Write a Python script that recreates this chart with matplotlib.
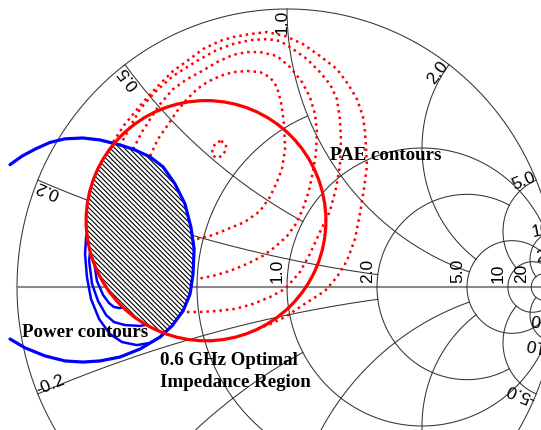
import numpy as np
import matplotlib
matplotlib.use("Agg")
import matplotlib.pyplot as plt
from matplotlib.patches import Ellipse, PathPatch
from matplotlib.path import Path
from matplotlib.transforms import offset_copy

# ---- Smith chart grid -------------------------------------------------------
# constant-resistance circles and the |reactance| at which each one stops
resistance_values = [0.5, 1.0, 2.0, 5.0, 10.0, 20.0]
resistance_limits = [1.0, np.inf, 5.0, 20.0, 20.0, np.inf]
axis_labels = ["0.5", "1.0", "2.0", "5.0", "10", "20"]

# constant-reactance arcs and the resistance at which each one stops
reactance_values = [0.2, 0.5, 1.0, 2.0, 5.0, 10.0, 20.0]
reactance_limits = [2.0, 1.0, 5.0, 5.0, 10.0, 20.0, np.inf]
reactance_labels = ["0.2", "0.5", "1.0", "2.0", "5.0", "10", "20"]

# ---- measured load-pull data (reflection coefficient, re / im) --------------
power_outer = [(-1.026, 0.440), (-0.981, 0.471), (-0.933, 0.496), (-0.878, 0.520),
               (-0.822, 0.533), (-0.756, 0.536), (-0.693, 0.529), (-0.619, 0.511),
               (-0.570, 0.496), (-0.507, 0.468), (-0.459, 0.432), (-0.415, 0.371),
               (-0.378, 0.299), (-0.356, 0.216), (-0.344, 0.137), (-0.348, 0.047),
               (-0.359, -0.025), (-0.385, -0.086), (-0.426, -0.140), (-0.470, -0.180),
               (-0.544, -0.223), (-0.619, -0.252), (-0.693, -0.266), (-0.756, -0.270),
               (-0.822, -0.266), (-0.896, -0.248), (-0.970, -0.219), (-1.026, -0.187)]

power_inner_1 = [(-0.619, 0.353), (-0.693, 0.299), (-0.730, 0.237), (-0.744, 0.180),
                 (-0.748, 0.119), (-0.741, 0.036), (-0.726, -0.043), (-0.696, -0.115),
                 (-0.656, -0.169), (-0.611, -0.198), (-0.556, -0.209), (-0.507, -0.201),
                 (-0.470, -0.180), (-0.426, -0.133), (-0.396, -0.043)]

power_inner_2 = [(-0.619, 0.281), (-0.693, 0.216), (-0.726, 0.155), (-0.733, 0.094),
                 (-0.722, 0.011), (-0.700, -0.050), (-0.670, -0.101), (-0.641, -0.126),
                 (-0.600, -0.137), (-0.544, -0.140), (-0.507, -0.133), (-0.452, -0.079)]

power_inner_3 = [(-0.619, 0.227), (-0.685, 0.155), (-0.715, 0.094), (-0.704, 0.022),
                 (-0.681, -0.029), (-0.659, -0.058), (-0.641, -0.072), (-0.619, -0.076),
                 (-0.563, -0.061)]

pae_peak = [(-0.244, 0.525), (-0.226, 0.514), (-0.226, 0.493), (-0.241, 0.471),
            (-0.263, 0.464), (-0.278, 0.478), (-0.274, 0.504), (-0.259, 0.522),
            (-0.244, 0.525)]

pae_1 = [(-0.507, 0.471), (-0.478, 0.532), (-0.444, 0.579), (-0.407, 0.633),
         (-0.370, 0.676), (-0.333, 0.712), (-0.296, 0.737), (-0.248, 0.759),
         (-0.200, 0.773), (-0.148, 0.777), (-0.100, 0.773), (-0.063, 0.755),
         (-0.037, 0.719), (-0.022, 0.665), (-0.011, 0.586), (-0.007, 0.496),
         (-0.019, 0.424), (-0.037, 0.378), (-0.063, 0.324), (-0.100, 0.273),
         (-0.156, 0.234), (-0.211, 0.212), (-0.274, 0.187), (-0.333, 0.173)]

pae_2 = [(-0.570, 0.496), (-0.537, 0.558), (-0.507, 0.604), (-0.470, 0.658),
         (-0.422, 0.712), (-0.370, 0.748), (-0.322, 0.773), (-0.259, 0.809),
         (-0.200, 0.835), (-0.148, 0.845), (-0.100, 0.845), (-0.037, 0.831),
         (0.011, 0.791), (0.056, 0.737), (0.085, 0.683), (0.104, 0.622),
         (0.111, 0.558), (0.107, 0.478), (0.096, 0.414), (0.081, 0.345),
         (0.059, 0.281), (0.033, 0.227), (0.000, 0.183), (-0.044, 0.144),
         (-0.089, 0.112), (-0.148, 0.083), (-0.211, 0.058), (-0.274, 0.040),
         (-0.333, 0.029)]

pae_3 = [(-0.619, 0.507), (-0.581, 0.576), (-0.544, 0.640), (-0.489, 0.701),
         (-0.422, 0.759), (-0.370, 0.791), (-0.322, 0.820), (-0.259, 0.853),
         (-0.200, 0.874), (-0.137, 0.888), (-0.074, 0.892), (-0.026, 0.885),
         (0.022, 0.856), (0.074, 0.820), (0.122, 0.773), (0.159, 0.730),
         (0.185, 0.676), (0.196, 0.604), (0.200, 0.532), (0.196, 0.435),
         (0.181, 0.353), (0.159, 0.273), (0.122, 0.198), (0.085, 0.119),
         (0.048, 0.054), (-0.007, -0.007), (-0.063, -0.036), (-0.126, -0.061),
         (-0.193, -0.079), (-0.259, -0.086), (-0.322, -0.090), (-0.385, -0.090)]

pae_4 = [(-0.644, 0.522), (-0.600, 0.586), (-0.533, 0.665), (-0.478, 0.723),
         (-0.422, 0.777), (-0.370, 0.813), (-0.311, 0.856), (-0.248, 0.885),
         (-0.200, 0.899), (-0.137, 0.910), (-0.074, 0.917), (-0.007, 0.903),
         (0.059, 0.874), (0.122, 0.831), (0.185, 0.784), (0.226, 0.730),
         (0.259, 0.676), (0.281, 0.615), (0.289, 0.558), (0.293, 0.496),
         (0.296, 0.435), (0.285, 0.353), (0.270, 0.263), (0.252, 0.173),
         (0.222, 0.094), (0.185, 0.036), (0.141, -0.014), (0.059, -0.065),
         (-0.007, -0.108), (-0.063, -0.133), (-0.119, -0.155)]

# 0.6 GHz optimal impedance region: centre and semi-axes
opt_center = (-0.300, 0.2385)
opt_semi_axes = (0.444, 0.432)

# ---- figure -----------------------------------------------------------------
plt.rcParams["hatch.linewidth"] = 0.8
fig = plt.figure(figsize=(5.41, 4.31), dpi=100)
ax = fig.add_axes([0, 0, 1, 1])
ax.set_xlim(-287 / 270, 254 / 270)
ax.set_ylim(-143 / 278, 288 / 278)
ax.axis("off")
y_bottom = ax.get_ylim()[0]


def gamma(z):
    return (z - 1) / (z + 1)


def xy(points):
    a = np.asarray(points)
    return a[:, 0], a[:, 1]


GRID = dict(color="#333333", lw=0.75, zorder=1)
LABEL = dict(fontsize=12.5, family="Liberation Sans", color="black",
             zorder=2, rotation_mode="anchor")

t = np.linspace(0, 2 * np.pi, 1441)
ax.plot(np.cos(t), np.sin(t), **GRID)
ax.plot([-1, 1], [0, 0], color="#8a8a8a", lw=1.5, zorder=1)

for r, lim in zip(resistance_values, resistance_limits):
    tmax = np.arctan(lim) if np.isfinite(lim) else np.pi / 2 - 1e-7
    x = np.tan(np.linspace(-tmax, tmax, 2001))
    g = gamma(r + 1j * x)
    ax.plot(g.real, g.imag, **GRID)

for xv, lim in zip(reactance_values, reactance_limits):
    tmax = np.arctan(lim) if np.isfinite(lim) else np.pi / 2 - 1e-7
    r = np.tan(np.linspace(0, tmax, 1501))
    for s in (1, -1):
        g = gamma(r + 1j * s * xv)
        ax.plot(g.real, g.imag, **GRID)

# reactance labels around the rim (only where the rim is inside the view)
for xv, lab in zip(reactance_values, reactance_labels):
    g = gamma(1j * xv)
    th = np.degrees(np.angle(g))
    ax.text(g.real, g.imag, lab, rotation=th, ha="right", va="baseline", **LABEL)
    if -g.imag > y_bottom:
        ax.text(g.real, -g.imag, "-" + lab, rotation=180 - th, ha="left",
                va="baseline", **LABEL)

# resistance labels along the real axis
axis_tr = offset_copy(ax.transData, fig=fig, x=-5, y=5, units="dots")
for r, lab in zip(resistance_values, axis_labels):
    ax.text(gamma(r), 0, lab, rotation=90, ha="left", va="baseline",
            transform=axis_tr, **LABEL)

# PAE contours
for c in (pae_peak, pae_1, pae_2, pae_3, pae_4):
    ax.plot(*xy(c), color="red", lw=1.8, ls=(0, (1, 1.6)), zorder=3)

# inner output-power contours
for c in (power_inner_1, power_inner_2, power_inner_3):
    ax.plot(*xy(c), color="blue", lw=1.8, zorder=3,
            solid_joinstyle="round", solid_capstyle="round")

# optimal region: intersection of the outer power contour and the circle
opt = Ellipse(opt_center, 2 * opt_semi_axes[0], 2 * opt_semi_axes[1],
              fill=False, edgecolor="red", lw=2.3, zorder=6)
ax.add_patch(opt)
verts = np.vstack([np.asarray(power_outer), np.asarray(power_outer[:1])])
region = PathPatch(Path(verts, closed=True), facecolor="white",
                   edgecolor="black", lw=0, hatch="\\" * 7, zorder=4)
ax.add_patch(region)
region.set_clip_path(opt)

ax.plot(*xy(power_outer), color="blue", lw=2.3, zorder=5,
        solid_joinstyle="round", solid_capstyle="round")

# annotations
NOTE = dict(fontsize=13.6, family="Liberation Serif", weight="bold",
            color="black", ha="left", va="baseline", zorder=7)
ax.text(0.159, 0.460, "PAE contours", **NOTE)
ax.text(-0.981, -0.176, "Power contours", **NOTE)
ax.text(-0.470, -0.277, "0.6 GHz Optimal", **NOTE)
ax.text(-0.470, -0.356, "Impedance Region", **NOTE)

fig.savefig("out.png", dpi=100)
